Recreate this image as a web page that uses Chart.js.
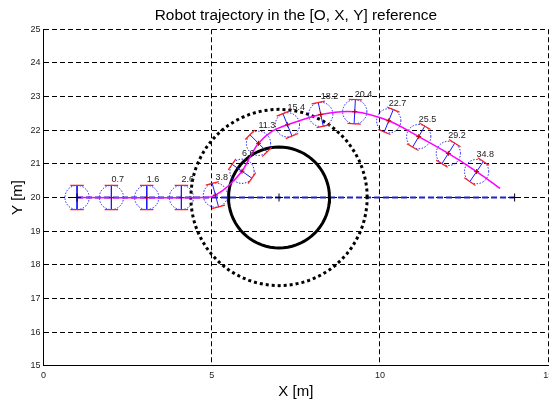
<!DOCTYPE html>
<html>
<head>
<meta charset="utf-8">
<title>Robot trajectory</title>
<script src="https://cdn.jsdelivr.net/npm/chart.js@4.4.1/dist/chart.umd.min.js"></script>
<style>
    html, body { margin: 0; padding: 0; background: #fff; }
    #wrap { width: 549px; height: 403px; }
</style>
</head>
<body>
<div id="wrap"><canvas id="trajectoryChart" width="549" height="403"></canvas></div>
<script>
// axis ticks
const xTicks = [0, 5, 10, 15];
const yTicks = [15, 16, 17, 18, 19, 20, 21, 22, 23, 24, 25];

// robot poses (m, deg) and their time stamps
const robotX = [1, 2.02, 3.07, 4.1, 5.11, 5.9, 6.39, 7.25, 8.24, 9.25, 10.26, 11.15, 12.03, 12.87];
const robotY = [20, 20, 20, 20, 20.07, 20.78, 21.61, 22.16, 22.47, 22.55, 22.28, 21.81, 21.31, 20.77];
const robotHeading = [0, 0, 0, 0, 15, 55, 45, 22, 12, -3, -22, -30, -32, -34];
const timeLabels = ['', '0.7', '1.6', '2.6', '3.8', '6.6', '11.3', '15.4', '18.2', '20.4', '22.7', '25.5', '29.2', '34.8'];
const robotRadius = 0.36;
const wheelHalf = 0.2;

// trajectory actually followed
const pathX = [1, 4.85, 5.11, 5.5, 5.9, 6.15, 6.39, 6.8, 7.25, 8.24, 9.25, 10.26, 11.15, 12.03, 12.87, 13.57];
const pathY = [20, 20, 20.07, 20.35, 20.78, 21.22, 21.61, 21.97, 22.16, 22.47, 22.55, 22.28, 21.81, 21.31, 20.77, 20.27];

// obstacle and its safety zone
const obstacleCenter = [7, 20];
const obstacleRadius = 1.5;
const safetyRadius = 2.62;

// start, obstacle centre, goal
const markerX = [1, 7, 14];
const markerY = [20, 20, 20];

const FONT = '"Liberation Sans", Arial, Helvetica, sans-serif';

function circlePoints(cx, cy, r) {
    const pts = [];
    for (let a = 0; a <= 360; a += 5) {
        const t = a * Math.PI / 180;
        pts.push({ x: cx + r * Math.cos(t), y: cy + r * Math.sin(t) });
    }
    return pts;
}

function lineSet(data, color, width, dash, order) {
    return {
        data,
        showLine: true,
        borderColor: color,
        borderWidth: width,
        borderDash: dash || [],
        pointRadius: 0,
        fill: false,
        tension: 0,
        order
    };
}

function buildRobots() {
    const sets = [];
    robotX.forEach((cx, i) => {
        const cy = robotY[i];
        const t = robotHeading[i] * Math.PI / 180;
        const tx = Math.cos(t), ty = Math.sin(t);
        const nx = -Math.sin(t), ny = Math.cos(t);
        const top = { x: cx + robotRadius * nx, y: cy + robotRadius * ny };
        const bot = { x: cx - robotRadius * nx, y: cy - robotRadius * ny };

        sets.push(lineSet(circlePoints(cx, cy, robotRadius), '#1a1aff', 1, [1.5, 1.5], 3));
        sets.push(lineSet([top, bot], '#1a1aff', 1, [], 3));
        [top, bot].forEach(p => {
            sets.push(lineSet([
                { x: p.x - wheelHalf * tx, y: p.y - wheelHalf * ty },
                { x: p.x + wheelHalf * tx, y: p.y + wheelHalf * ty }
            ], '#ff2020', 1.2, [], 2));
        });
    });
    return sets;
}

const datasets = [
    lineSet([{ x: markerX[0], y: markerY[0] }, { x: markerX[2], y: markerY[2] }], '#2323c8', 2, [6, 3], 5),
    lineSet(circlePoints(obstacleCenter[0], obstacleCenter[1], obstacleRadius), '#000', 3, [], 4),
    lineSet(circlePoints(obstacleCenter[0], obstacleCenter[1], safetyRadius), '#000', 3, [3, 3], 4),
    ...buildRobots(),
    Object.assign(lineSet(pathX.map((x, i) => ({ x, y: pathY[i] })), '#ff00ff', 1.5, [], 1), { tension: 0.3 }),
    {
        data: robotX.slice(1).map((x, i) => ({ x, y: robotY[i + 1] })),
        pointStyle: 'cross', pointRadius: 2.5, borderColor: '#b00000', borderWidth: 1, order: 0
    },
    {
        data: markerX.map((x, i) => ({ x, y: markerY[i] })),
        pointStyle: 'cross', pointRadius: 4, borderColor: '#000', borderWidth: 1, order: 0
    }
];

const timeLabelPlugin = {
    id: 'timeLabels',
    afterDatasetsDraw(chart) {
        const { ctx, scales: { x, y } } = chart;
        ctx.save();
        ctx.font = '9px ' + FONT;
        ctx.fillStyle = '#222';
        ctx.textAlign = 'left';
        ctx.textBaseline = 'middle';
        timeLabels.forEach((label, i) => {
            if (!label) return;
            ctx.fillText(label, x.getPixelForValue(robotX[i]), y.getPixelForValue(robotY[i] + 0.52));
        });
        ctx.restore();
    }
};

new Chart(document.getElementById('trajectoryChart'), {
    type: 'scatter',
    data: { datasets },
    plugins: [timeLabelPlugin],
    options: {
        responsive: false,
        devicePixelRatio: 1,
        animation: false,
        layout: { autoPadding: false, padding: { left: 0, right: 0.7, top: 0, bottom: 0 } },
        plugins: {
            legend: { display: false },
            tooltip: { enabled: false },
            title: {
                display: true,
                fullSize: false,
                text: 'Robot trajectory in the [O, X, Y] reference',
                color: '#000',
                font: { family: FONT, size: 15.4, weight: 'normal' },
                padding: { top: 7, bottom: 3.8 }
            }
        },
        scales: {
            x: {
                type: 'linear',
                min: xTicks[0],
                max: xTicks[xTicks.length - 1],
                afterBuildTicks: axis => { axis.ticks = xTicks.map(v => ({ value: v })); },
                afterFit: axis => {
                    axis.height = 37.3;
                    axis.paddingLeft = 0;
                    axis.paddingRight = 0;
                },
                grid: { color: '#000', lineWidth: 1, drawTicks: false },
                border: { display: true, color: '#000', width: 1, dash: [5, 3] },
                ticks: { color: '#222', font: { family: FONT, size: 9 }, padding: 4, maxRotation: 0 },
                title: {
                    display: true, text: 'X [m]', color: '#000',
                    font: { family: FONT, size: 15 }, padding: { top: 0, bottom: 2.4 }
                }
            },
            y: {
                type: 'linear',
                min: yTicks[0],
                max: yTicks[yTicks.length - 1],
                afterBuildTicks: axis => { axis.ticks = yTicks.map(v => ({ value: v })); },
                afterFit: axis => {
                    axis.width = 43.4;
                    axis.paddingTop = 0;
                    axis.paddingBottom = 0;
                },
                grid: { color: '#000', lineWidth: 1, drawTicks: false },
                border: { display: true, color: '#000', width: 1, dash: [5, 3] },
                ticks: { color: '#222', font: { family: FONT, size: 9 }, padding: 3 },
                title: {
                    display: true, text: 'Y [m]', color: '#000',
                    font: { family: FONT, size: 15 }, padding: { top: 8.5, bottom: 0 }
                }
            }
        }
    }
});
</script>
</body>
</html>
